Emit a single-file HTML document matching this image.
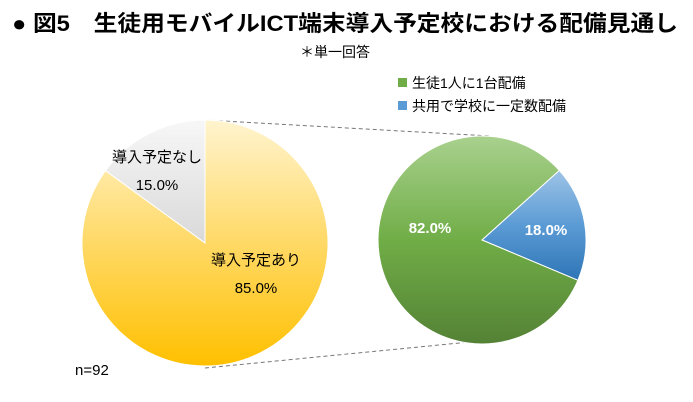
<!DOCTYPE html>
<html><head><meta charset="utf-8"><style>
body{margin:0;background:#fff;}
svg{display:block;font-family:"Liberation Sans","Noto Sans CJK JP",sans-serif;}
</style></head><body>
<svg width="693" height="402" viewBox="0 0 693 402">
<defs>
<linearGradient id="y" x1="0" y1="0" x2="0" y2="1"><stop offset="0" stop-color="#fff4cf"/><stop offset="0.5" stop-color="#ffd966"/><stop offset="1" stop-color="#ffc000"/></linearGradient>
<linearGradient id="g" x1="0" y1="0" x2="0" y2="1"><stop offset="0" stop-color="#f7f7f7"/><stop offset="1" stop-color="#d9d9d9"/></linearGradient>
<linearGradient id="gr" x1="0" y1="0" x2="0" y2="1"><stop offset="0" stop-color="#a9d18e"/><stop offset="0.5" stop-color="#70ad47"/><stop offset="1" stop-color="#548235"/></linearGradient>
<linearGradient id="bl" x1="0" y1="0" x2="0" y2="1"><stop offset="0" stop-color="#9dc3e6"/><stop offset="0.5" stop-color="#5b9bd5"/><stop offset="1" stop-color="#2e75b6"/></linearGradient>
</defs>
<text x="12" y="31" font-size="22" font-weight="bold" fill="#000" textLength="666" lengthAdjust="spacingAndGlyphs">● 図5　生徒用モバイルICT端末導入予定校における配備見通し</text>
<text x="300" y="57" font-size="14" fill="#000">＊単一回答</text>
<rect x="398" y="78" width="9" height="9" fill="#70ad47"/>
<text x="412" y="88" font-size="14" fill="#000">生徒1人に1台配備</text>
<rect x="398" y="101" width="9" height="9" fill="#5b9bd5"/>
<text x="412" y="111" font-size="14" fill="#000">共用で学校に一定数配備</text>
<line x1="205" y1="120" x2="490" y2="136" stroke="#777" stroke-dasharray="4,3"/>
<line x1="205" y1="368" x2="490" y2="340" stroke="#777" stroke-dasharray="4,3"/>
<path d="M205,243 L205,120 A123,123 0 0,0 105.5,170.7 Z" fill="url(#g)" stroke="#fff"/>
<path d="M205,243 L205,120 A123,123 0 1,1 105.5,170.7 Z" fill="url(#y)" stroke="#fff"/>
<path d="M482,240 L559.3,170.4 A104,104 0 0,1 577.9,280.3 Z" fill="url(#bl)" stroke="#fff"/>
<path d="M482,240 L577.9,280.3 A104,104 0 1,1 559.3,170.4 Z" fill="url(#gr)" stroke="#fff"/>
<text x="157" y="162" font-size="15" text-anchor="middle">導入予定なし</text>
<text x="157" y="190" font-size="15" text-anchor="middle">15.0%</text>
<text x="256" y="265" font-size="15" text-anchor="middle">導入予定あり</text>
<text x="256" y="293" font-size="15" text-anchor="middle">85.0%</text>
<text x="430" y="233" font-size="15" font-weight="bold" fill="#fff" text-anchor="middle">82.0%</text>
<text x="546" y="235" font-size="15" font-weight="bold" fill="#fff" text-anchor="middle">18.0%</text>
<text x="75" y="375" font-size="15">n=92</text>
</svg>
</body></html>
